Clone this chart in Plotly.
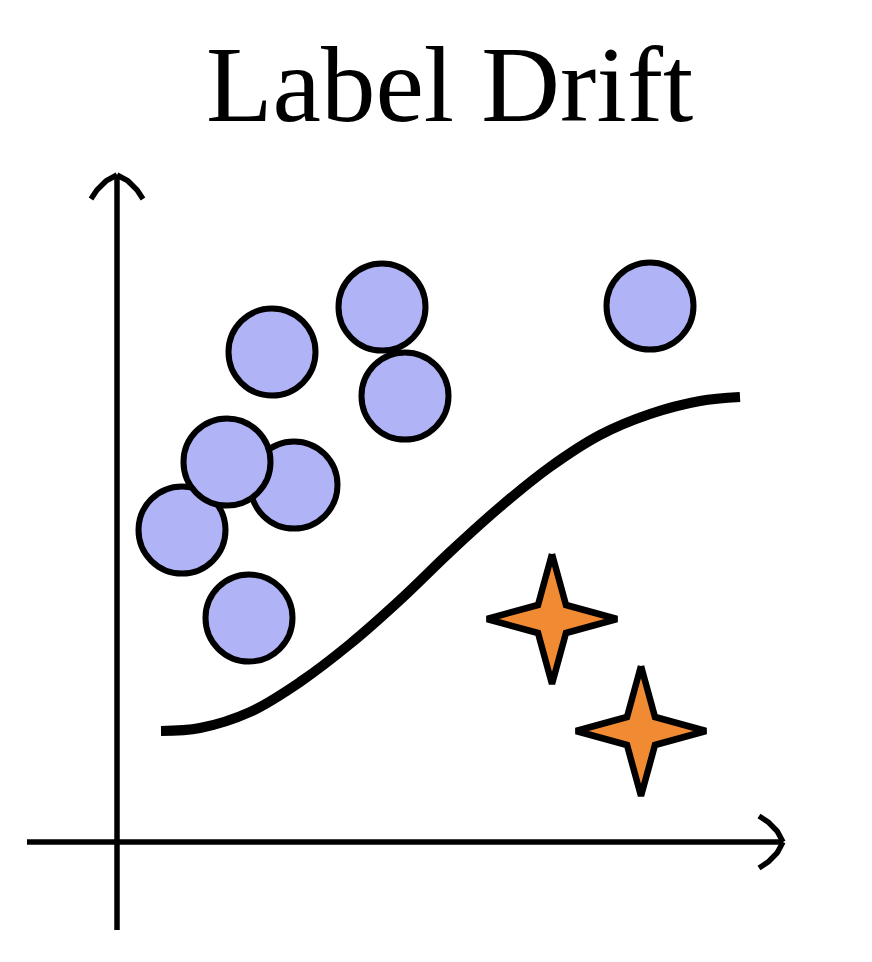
import plotly.graph_objects as go

# ---- data (origin at the axes crossing, 1 unit = 1 px) ----
circle_x = [65, 177, 110, 132, 155, 265, 288, 533]
circle_y = [312, 357, 380, 224, 490, 535, 446, 536]

star_x = [435, 524]
star_y = [223, 111]

curve_x = [44, 83, 133, 183, 233, 283, 333, 383, 433, 483, 533, 583, 623]
curve_y = [111, 114, 130, 160, 198, 242, 290, 335, 375, 407, 428, 441, 445]

title_text = "Label Drift"

# axis extents
x_axis_from, x_axis_to = -90, 666
y_axis_from, y_axis_to = -88, 667

# ---- style ----
CIRCLE_FILL = "#b0b3f6"
STAR_FILL = "#f08a33"
INK = "black"
PAGE_OFFSET = 8  # default body margin of the html page

fig = go.Figure()

# axes lines
fig.add_trace(go.Scatter(x=[x_axis_from, x_axis_to], y=[0, 0], mode="lines",
                         line=dict(color=INK, width=5.5), hoverinfo="skip", showlegend=False))
fig.add_trace(go.Scatter(x=[0, 0], y=[y_axis_from, y_axis_to], mode="lines",
                         line=dict(color=INK, width=5.5), hoverinfo="skip", showlegend=False))

# curved arrowheads (quadratic bezier)
def bez(p0, c, p1, n=24):
    xs, ys = [], []
    for i in range(n + 1):
        t = i / n
        xs.append((1 - t) ** 2 * p0[0] + 2 * (1 - t) * t * c[0] + t ** 2 * p1[0])
        ys.append((1 - t) ** 2 * p0[1] + 2 * (1 - t) * t * c[1] + t ** 2 * p1[1])
    return xs, ys

ah_len, ah_half = 24, 26
c_back, c_side = 6, 16
ax_x, ax_y = [], []
tip = (x_axis_to, 0)
for s in (1, -1):
    xs, ys = bez(tip, (tip[0] - c_back, s * c_side), (tip[0] - ah_len, s * ah_half))
    ax_x += xs + [None]
    ax_y += ys + [None]
tip = (0, y_axis_to)
for s in (1, -1):
    xs, ys = bez(tip, (s * c_side, tip[1] - c_back), (s * ah_half, tip[1] - ah_len))
    ax_x += xs + [None]
    ax_y += ys + [None]
fig.add_trace(go.Scatter(x=ax_x, y=ax_y, mode="lines",
                         line=dict(color=INK, width=5.5), hoverinfo="skip", showlegend=False))

# decision curve
fig.add_trace(go.Scatter(x=curve_x, y=curve_y, mode="lines",
                         line=dict(color=INK, width=10, shape="spline", smoothing=1.0),
                         hoverinfo="skip", showlegend=False))

# circles
fig.add_trace(go.Scatter(x=circle_x, y=circle_y, mode="markers",
                         marker=dict(size=87, color=CIRCLE_FILL, line=dict(color=INK, width=6)),
                         showlegend=False))

# stars (4-point)
R_tip, R_in = 65, 14
sx, sy = [], []
for cx, cy in zip(star_x, star_y):
    pts = [(0, R_tip), (R_in, R_in), (R_tip, 0), (R_in, -R_in),
           (0, -R_tip), (-R_in, -R_in), (-R_tip, 0), (-R_in, R_in), (0, R_tip)]
    sx += [cx + p[0] for p in pts] + [None]
    sy += [cy + p[1] for p in pts] + [None]
fig.add_trace(go.Scatter(x=sx, y=sy, mode="lines", fill="toself", fillcolor=STAR_FILL,
                         line=dict(color=INK, width=6.5), showlegend=False))

fig.add_annotation(text=title_text, xref="paper", yref="paper",
                   x=(449 - PAGE_OFFSET) / 872, y=1 - (84 - PAGE_OFFSET) / 962,
                   xanchor="center", yanchor="middle", showarrow=False,
                   font=dict(family="Liberation Serif, Times New Roman, serif", size=109, color=INK))

ox, oy = 117 - PAGE_OFFSET, 842 - PAGE_OFFSET
fig.update_layout(
    width=872, height=962,
    margin=dict(l=0, r=0, t=0, b=0),
    paper_bgcolor="white", plot_bgcolor="white",
    xaxis=dict(range=[-ox, 872 - ox], visible=False, fixedrange=True),
    yaxis=dict(range=[-(962 - oy), oy], visible=False, fixedrange=True),
    showlegend=False,
)

fig.write_html("out.html")
